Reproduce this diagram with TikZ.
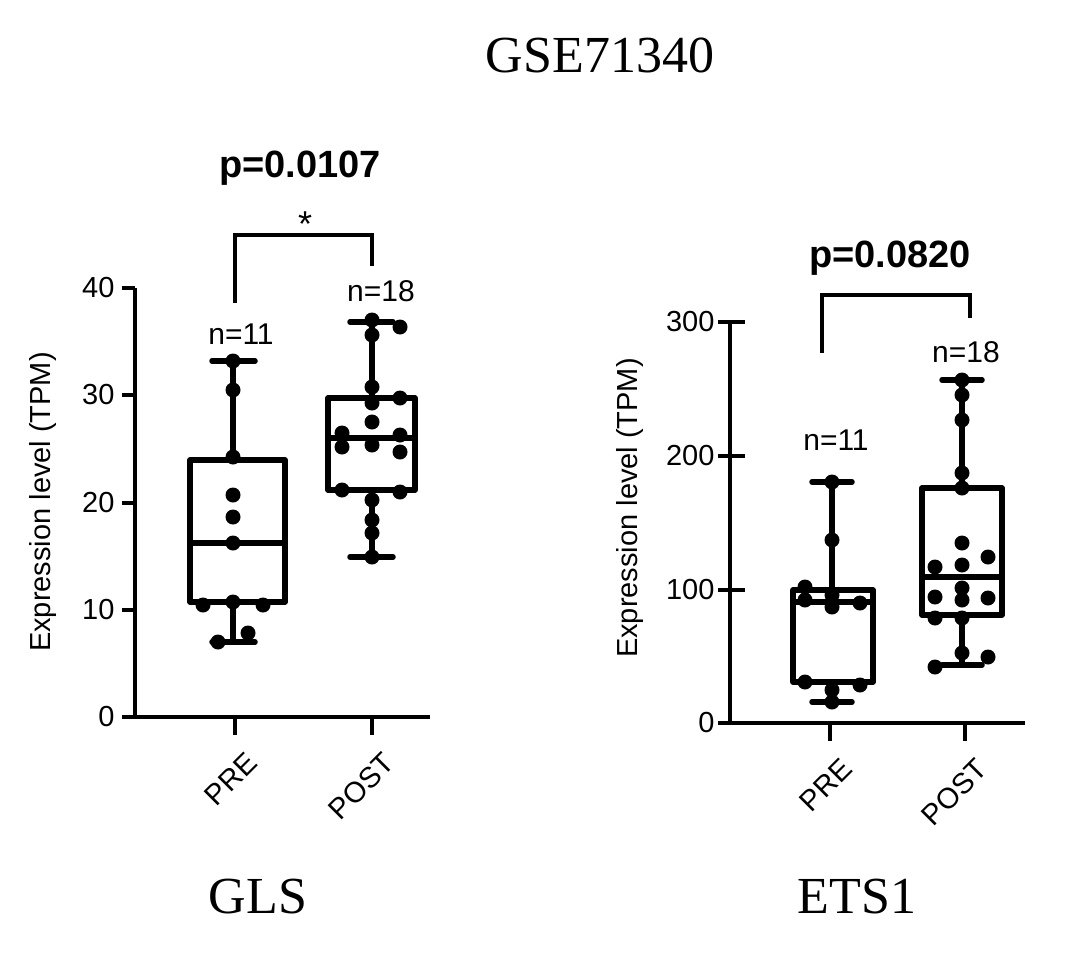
\documentclass[tikz,border=0pt]{standalone}
\usepackage{fontspec}
\setmainfont{Liberation Serif}
\newfontfamily\sans{Liberation Sans}
\begin{document}
\begin{tikzpicture}[x=1pt,y=-1pt,
  ln/.style={line width=5.5pt,line cap=round,line join=round},
  ax/.style={line width=3.2pt},
  dt/.style={fill=black,circle,inner sep=0pt,minimum size=15pt},
  tk/.style={font=\sans\fontsize{29}{29}\selectfont},
  nl/.style={font=\sans\fontsize{30}{30}\selectfont},
  pv/.style={font=\sans\bfseries\fontsize{38}{38}\selectfont},
  tt/.style={font=\fontsize{52}{52}\selectfont}]
\useasboundingbox (0,0) rectangle (1086,955);
\node[tt] (title) at (600,55) {GSE71340};
% ---------- left plot ----------
\draw[ax] (135,288) -- (135,717) -- (430,717);
\foreach \v/\y in {0/717,10/610,20/503,30/395,40/288}{
  \draw[ax] (122,\y) -- (135,\y);
  \node[tk,anchor=east] (lt\v) at (118,\y) {\v};}
\draw[ax] (235,717) -- (235,735); \draw[ax] (372,717) -- (372,735);
\node[tk,rotate=45,anchor=north east] (lpre) at (245,746) {PRE};
\node[tk,rotate=45,anchor=north east] (lpost) at (382,746) {POST};
\node[tk,rotate=90] (lyl) at (43,502) {Expression level (TPM)};
% PRE box
\draw[ln] (190,460) rectangle (285,602); \draw[ln] (190,543) -- (285,543);
\draw[ln] (233,460) -- (233,361) (212,361) -- (255,361);
\draw[ln] (233,602) -- (233,642) (212,642) -- (255,642);
\foreach \p [count=\i] in {(233,361),(233,390),(233,457),(233,495),(233,517),(233,543),(203,605),(233,602),(263,605),(218,642),(248,633)}
  \node[dt] (lpd\i) at \p {};
% POST box
\draw[ln] (328,398) rectangle (415,490); \draw[ln] (328,438) -- (415,438);
\draw[ln] (372,398) -- (372,322) (350,322) -- (393,322);
\draw[ln] (372,490) -- (372,557) (350,557) -- (393,557);
\foreach \p [count=\i] in {(372,320),(400,327),(372,335),(372,387),(372,403),(400,398),(372,422),(342,433),(342,447),(372,445),(400,435),(400,452),(342,490),(400,492),(372,500),(372,520),(372,533),(372,557)}
  \node[dt] (lqd\i) at \p {};
\node[nl] (ln11) at (241,334) {n=11};
\node[nl] (ln18) at (381,291) {n=18};
\coordinate (lb1) at (235,303); \coordinate (lb2) at (372,266);
\draw[ax,line width=3.5pt] (lb1) -- (235,235) -- (372,235) -- (lb2);
\node[font=\sans\fontsize{36}{36}\selectfont] (lstar) at (305,224) {*};
\node[pv] (lp) at (300,168) {p=0.0107};
\node[tt] (gls) at (258,897) {GLS};
% ---------- right plot ----------
\draw[ax] (730,322) -- (730,723) -- (1025,723);
\foreach \v/\y in {0/723,100/590,200/456,300/322}{
  \draw[ax] (718,\y) -- (745,\y);
  \node[tk,anchor=east] (rt\v) at (718,\y) {\v};}
\draw[ax] (830,723) -- (830,741); \draw[ax] (965,723) -- (965,741);
\node[tk,rotate=45,anchor=north east] (rpre) at (840,752) {PRE};
\node[tk,rotate=45,anchor=north east] (rpost) at (975,752) {POST};
\node[tk,rotate=90] (ryl) at (630,508) {Expression level (TPM)};
% PRE
\draw[ln] (793,590) rectangle (873,682); \draw[ln] (793,602) -- (873,602);
\draw[ln] (832,590) -- (832,482) (812,482) -- (852,482);
\draw[ln] (832,682) -- (832,702) (812,702) -- (852,702);
\foreach \p [count=\i] in {(832,482),(832,540),(805,587),(805,600),(832,595),(832,607),(860,603),(805,682),(860,685),(832,690),(832,702)}
  \node[dt] (rpd\i) at \p {};
% POST
\draw[ln] (922,488) rectangle (1002,615); \draw[ln] (922,577) -- (1002,577);
\draw[ln] (962,488) -- (962,380) (942,380) -- (982,380);
\draw[ln] (962,615) -- (962,665) (942,665) -- (982,665);
\foreach \p [count=\i] in {(962,380),(962,395),(962,420),(962,473),(962,488),(962,543),(988,557),(935,567),(962,565),(962,588),(935,597),(962,600),(988,598),(935,618),(962,618),(962,653),(988,657),(935,667)}
  \node[dt] (rqd\i) at \p {};
\node[nl] (rn11) at (836,440) {n=11};
\node[nl] (rn18) at (966,352) {n=18};
\coordinate (rb1) at (822,353); \coordinate (rb2) at (970,318);
\draw[ax,line width=3.5pt] (rb1) -- (822,295) -- (970,295) -- (rb2);
\node[pv] (rp) at (890,258) {p=0.0820};
\node[tt] (ets) at (857,897) {ETS1};
\end{tikzpicture}
\end{document}
